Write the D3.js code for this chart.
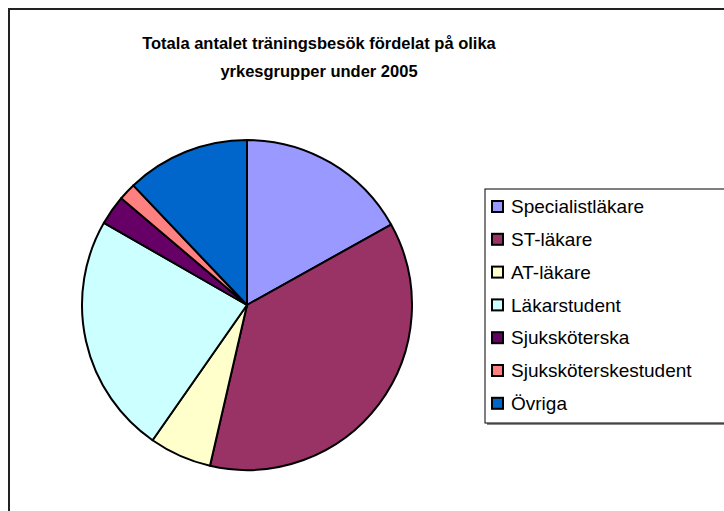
<!DOCTYPE html>
<html>
<head>
<meta charset="utf-8">
<script src="https://cdn.jsdelivr.net/npm/d3@7"></script>
<style>
  body { margin: 0; background: #fff; }
  svg { display: block; font-family: "Liberation Sans", Arial, sans-serif; }
</style>
</head>
<body>
<div id="chart"></div>
<script>
// data (share of visits, %)
const categories = ["Specialistläkare", "ST-läkare", "AT-läkare", "Läkarstudent",
                    "Sjuksköterska", "Sjuksköterskestudent", "Övriga"];
const values = [16.9, 36.7, 6.1, 23.6, 2.9, 1.7, 12.1];
const colors = ["#9999FF", "#993366", "#FFFFCC", "#CCFFFF", "#660066", "#FF8080", "#0066CC"];
const titleLines = ["Totala antalet träningsbesök fördelat på olika", "yrkesgrupper under 2005"];

const W = 724, H = 511;
const svg = d3.select("#chart").append("svg")
    .attr("width", W)
    .attr("height", H);

// outer chart border (runs off the right/bottom edge like the original)
svg.append("rect")
    .attr("x", 9).attr("y", 9)
    .attr("width", W).attr("height", H)
    .attr("fill", "#fff")
    .attr("stroke", "#222")
    .attr("stroke-width", 2);

// title
svg.append("text")
    .attr("text-anchor", "middle")
    .style("font-weight", "bold")
    .style("font-size", "16.5px")
    .selectAll("tspan")
    .data(titleLines)
    .enter()
    .append("tspan")
    .attr("x", 319)
    .attr("y", (d, i) => 49 + i * 28)
    .text(d => d);

// pie
const cx = 247, cy = 305, radius = 165;
const pie = d3.pie().sort(null).value(d => d.value);
const arc = d3.arc().innerRadius(0).outerRadius(radius);
const data = categories.map((c, i) => ({name: c, value: values[i]}));

const g = svg.append("g").attr("transform", `translate(${cx},${cy})`);
g.selectAll("path")
    .data(pie(data))
    .enter()
    .append("path")
    .attr("d", arc)
    .attr("fill", (d, i) => colors[i])
    .attr("stroke", "#000")
    .attr("stroke-width", 2)
    .attr("stroke-linejoin", "round");

// legend
const lx = 485, ly = 189, lh = 234, rowH = 32.8;
svg.append("rect")
    .attr("x", lx + 2).attr("y", ly + 2)
    .attr("width", 300).attr("height", lh)
    .attr("fill", "#888");
svg.append("rect")
    .attr("x", lx).attr("y", ly)
    .attr("width", 300).attr("height", lh)
    .attr("fill", "#fff")
    .attr("stroke", "#000")
    .attr("stroke-width", 1);

const legend = svg.selectAll(".legend")
    .data(categories)
    .enter()
    .append("g")
    .attr("class", "legend")
    .attr("transform", (d, i) => `translate(${lx + 7},${ly + 17.5 + i * rowH})`);

legend.append("rect")
    .attr("x", 0).attr("y", -5.5)
    .attr("width", 11).attr("height", 11)
    .attr("fill", (d, i) => colors[i])
    .attr("stroke", "#000")
    .attr("stroke-width", 2);

legend.append("text")
    .attr("x", 19)
    .attr("dy", "0.35em")
    .style("font-size", "19px")
    .text(d => d);
</script>
</body>
</html>
